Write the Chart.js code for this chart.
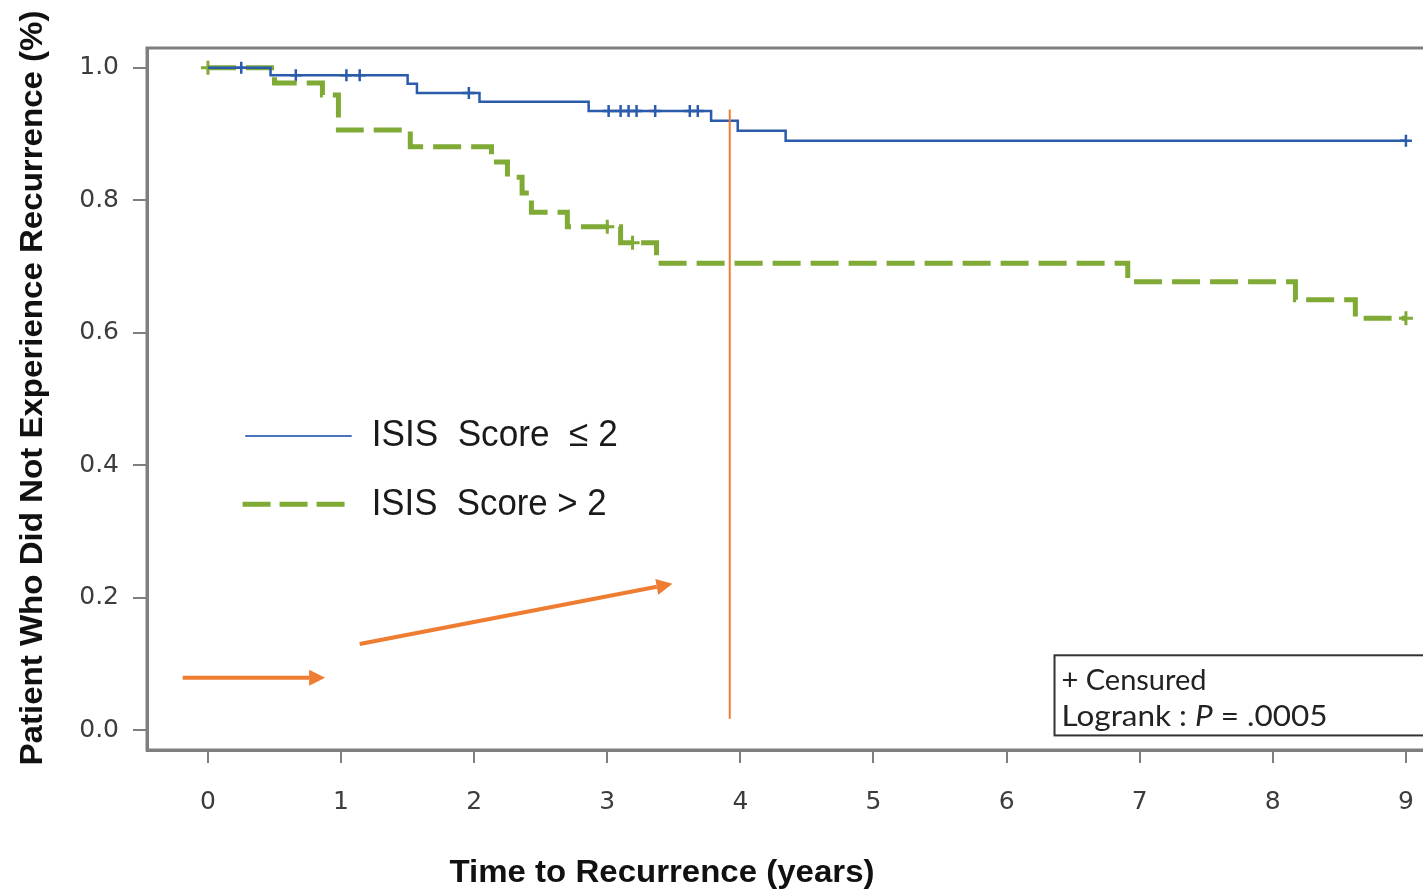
<!DOCTYPE html>
<html>
<head>
<meta charset="utf-8">
<script src="https://cdn.jsdelivr.net/npm/chart.js@4"></script>
<style>
  body { margin: 0; background: #fff; overflow: hidden; }
  canvas { display: block; }
</style>
</head>
<body>
<canvas id="myCanvas" width="1450" height="893"></canvas>
<script>
// Kaplan-Meier steps (time in years, survival fraction)
var lowTimes  = [0, 0.47, 1.50, 1.57, 2.04, 2.86, 3.78, 3.98, 4.34, 9.0];
var lowSurv   = [1.0, 0.989, 0.976, 0.962, 0.949, 0.935, 0.920, 0.905, 0.890, 0.890];
var lowCensor = [0.25, 0.66, 1.04, 1.14, 1.96, 3.01, 3.10, 3.16, 3.22, 3.36, 3.62, 3.68, 9.0];

var highTimes  = [0, 0.50, 0.86, 0.98, 1.52, 2.13, 2.25, 2.36, 2.43, 2.70, 3.10, 3.37, 6.91, 8.17, 8.62, 9.0];
var highSurv   = [1.0, 0.977, 0.959, 0.906, 0.881, 0.858, 0.835, 0.811, 0.782, 0.760, 0.736, 0.705, 0.677, 0.650, 0.622, 0.622];
var highCensor = [0, 3.0, 3.19, 9.0];

var xTicks = [0, 1, 2, 3, 4, 5, 6, 7, 8, 9];
var yTicks = [0, 0.2, 0.4, 0.6, 0.8, 1.0];

var seriesNames = ['ISIS  Score  \u2264 2', 'ISIS  Score > 2'];

// orange marks added on top of the figure, in data units [x1, y1, x2, y2]
var markerLine = [3.92, 0.017, 3.92, 0.937];
var arrowOne = [-0.19, 0.079, 0.88, 0.079];
var arrowTwo = [1.14, 0.130, 3.49, 0.221];

var BLUE = '#2b5bab';
var GREEN = '#7faa35';
var ORANGE = '#ee7d32';

function survAt(times, surv, t){
    var v = surv[0];
    for (var i = 0; i < times.length; i++){
        if (times[i] <= t) v = surv[i];
    }
    return v;
}

function toPoints(times, surv){
    return times.map(function(t, i){ return {x: t, y: surv[i]}; });
}

function censorPoints(times, surv, cens){
    return cens.map(function(t){ return {x: t, y: survAt(times, surv, t)}; });
}

// draw text squeezed/stretched to a given width
function fitText(ctx, parts, x, y, width, align){
    var total = 0;
    parts.forEach(function(p){ ctx.font = p.font; total += ctx.measureText(p.text).width; });
    var k = width / total;
    ctx.save();
    ctx.translate(x, y);
    ctx.scale(k, 1);
    var cx = align === 'center' ? -total / 2 : 0;
    ctx.textAlign = 'left';
    parts.forEach(function(p){
        ctx.font = p.font;
        ctx.fillText(p.text, cx, 0);
        cx += ctx.measureText(p.text).width;
    });
    ctx.restore();
}

function arrow(ctx, x1, y1, x2, y2){
    var a = Math.atan2(y2 - y1, x2 - x1);
    var head = 16, half = 8;
    ctx.beginPath();
    ctx.moveTo(x1, y1);
    ctx.lineTo(x2 - head * Math.cos(a), y2 - head * Math.sin(a));
    ctx.stroke();
    ctx.beginPath();
    ctx.moveTo(x2, y2);
    ctx.lineTo(x2 - head * Math.cos(a) + half * Math.sin(a), y2 - head * Math.sin(a) - half * Math.cos(a));
    ctx.lineTo(x2 - head * Math.cos(a) - half * Math.sin(a), y2 - head * Math.sin(a) + half * Math.cos(a));
    ctx.closePath();
    ctx.fill();
}

var extras = {
    id: 'extras',
    afterDatasetsDraw: function(chart){
        var ctx = chart.ctx;
        var xs = chart.scales.x, ys = chart.scales.y;
        var area = chart.chartArea;
        var px = function(v){ return xs.getPixelForValue(v); };
        var py = function(v){ return ys.getPixelForValue(v); };

        ctx.save();
        // frame
        ctx.strokeStyle = '#7f7f7f';
        ctx.lineWidth = 3;
        ctx.strokeRect(area.left, area.top, area.right - area.left, area.bottom - area.top);

        // legend inside the plot
        ctx.lineWidth = 2;
        ctx.strokeStyle = '#4a72b8';
        ctx.beginPath();
        ctx.moveTo(px(0.28), py(0.444));
        ctx.lineTo(px(1.08), py(0.444));
        ctx.stroke();
        ctx.lineWidth = 5;
        ctx.strokeStyle = GREEN;
        ctx.setLineDash([28, 9]);
        ctx.beginPath();
        ctx.moveTo(px(0.26), py(0.341));
        ctx.lineTo(px(1.07), py(0.341));
        ctx.stroke();
        ctx.setLineDash([]);

        ctx.fillStyle = '#1a1a1a';
        ctx.textBaseline = 'middle';
        fitText(ctx, [{text: seriesNames[0], font: '37px "Liberation Sans"'}], px(1.23), py(0.444), 246);
        fitText(ctx, [{text: seriesNames[1], font: '37px "Liberation Sans"'}], px(1.23), py(0.341), 235);

        // censored / logrank box
        var bx = px(6.36), by = py(0.113);
        ctx.fillStyle = '#fff';
        ctx.fillRect(bx, by, area.right - bx, py(-0.008) - by);
        ctx.strokeStyle = '#333';
        ctx.lineWidth = 2;
        ctx.strokeRect(bx, by, area.right - bx, py(-0.008) - by);
        ctx.fillStyle = '#222';
        fitText(ctx, [{text: '+ Censured', font: '29px Lato'}], bx + 7, by + 25, 145);
        fitText(ctx, [
            {text: 'Logrank : ', font: '29px Lato'},
            {text: 'P', font: 'italic 29px Lato'},
            {text: ' = .0005', font: '29px Lato'}
        ], bx + 7, by + 61, 266);

        // orange annotations
        ctx.strokeStyle = ORANGE;
        ctx.fillStyle = ORANGE;
        ctx.lineWidth = 2;
        ctx.beginPath();
        ctx.moveTo(px(markerLine[0]), py(markerLine[1]));
        ctx.lineTo(px(markerLine[2]), py(markerLine[3]));
        ctx.stroke();
        ctx.lineWidth = 4;
        arrow(ctx, px(arrowOne[0]), py(arrowOne[1]), px(arrowOne[2]), py(arrowOne[3]));
        arrow(ctx, px(arrowTwo[0]), py(arrowTwo[1]), px(arrowTwo[2]), py(arrowTwo[3]));
        ctx.restore();
    },
    afterDraw: function(chart){
        var ctx = chart.ctx;
        ctx.save();
        ctx.fillStyle = '#111';
        ctx.textBaseline = 'middle';
        // x axis title
        fitText(ctx, [{text: 'Time to Recurrence (years)', font: 'bold 31px "Liberation Sans"'}], 662, 873, 425, 'center');
        // y axis title, rotated
        ctx.translate(33, 388);
        ctx.rotate(-Math.PI / 2);
        fitText(ctx, [{text: 'Patient Who Did Not Experience Recurrence (%)', font: 'bold 31px "Liberation Sans"'}], 0, 0, 755, 'center');
        ctx.restore();
    }
};

var ctx = document.getElementById('myCanvas').getContext('2d');
var tickFont = {family: '"DejaVu Sans"', size: 25};

var myChart = new Chart(ctx, {
    type: 'line',
    data: {
        datasets: [{
            label: seriesNames[0],
            data: toPoints(lowTimes, lowSurv),
            stepped: 'before',
            borderColor: BLUE,
            borderWidth: 2.5,
            pointRadius: 0,
            fill: false
        }, {
            label: seriesNames[1],
            data: toPoints(highTimes, highSurv),
            stepped: 'before',
            borderColor: GREEN,
            borderWidth: 5,
            borderDash: [28, 10],
            borderCapStyle: 'butt',
            pointRadius: 0,
            fill: false
        }, {
            label: 'censored low',
            data: censorPoints(lowTimes, lowSurv, lowCensor),
            showLine: false,
            pointStyle: 'cross',
            pointRadius: 6,
            borderColor: BLUE,
            pointBorderWidth: 2.5
        }, {
            label: 'censored high',
            data: censorPoints(highTimes, highSurv, highCensor),
            showLine: false,
            pointStyle: 'cross',
            pointRadius: 7,
            borderColor: GREEN,
            pointBorderWidth: 3
        }]
    },
    options: {
        responsive: false,
        animation: false,
        layout: { padding: { top: 48, right: 10, left: 0, bottom: 0 } },
        plugins: {
            legend: { display: false },
            tooltip: { enabled: false }
        },
        scales: {
            x: {
                type: 'linear',
                min: -0.458,
                max: 9.256,
                afterBuildTicks: function(s){ s.ticks = xTicks.map(function(v){ return {value: v}; }); },
                afterFit: function(s){ s.height = 143; },
                grid: { drawOnChartArea: false, tickLength: 13, color: '#7f7f7f', lineWidth: 2 },
                border: { color: '#7f7f7f', width: 3 },
                ticks: { font: tickFont, color: '#3c3c3c', padding: 24, maxRotation: 0 }
            },
            y: {
                min: -0.03,
                max: 1.03,
                afterBuildTicks: function(s){ s.ticks = yTicks.map(function(v){ return {value: v}; }); },
                afterFit: function(s){ s.width = 147; },
                grid: { drawOnChartArea: false, tickLength: 14, color: '#7f7f7f', lineWidth: 2 },
                border: { color: '#7f7f7f', width: 3 },
                ticks: {
                    font: tickFont, color: '#3c3c3c', padding: 14,
                    callback: function(v){ return v.toFixed(1); }
                }
            }
        }
    },
    plugins: [extras]
});
</script>
</body>
</html>
